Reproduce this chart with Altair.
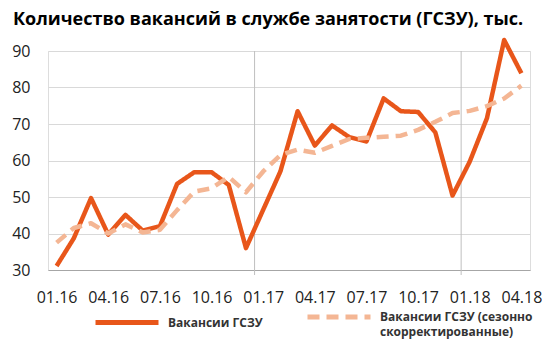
import altair as alt
import pandas as pd

title_text = "Количество вакансий в службе занятости (ГСЗУ), тыс."

months = ["01.16", "02.16", "03.16", "04.16", "05.16", "06.16", "07.16", "08.16",
          "09.16", "10.16", "11.16", "12.16", "01.17", "02.17", "03.17", "04.17",
          "05.17", "06.17", "07.17", "08.17", "09.17", "10.17", "11.17", "12.17",
          "01.18", "02.18", "03.18", "04.18"]

vacancies = [31.1, 38.7, 49.7, 39.7, 45.1, 40.8, 42.0, 53.6, 56.8, 56.8, 53.3, 36.0,
             46.5, 57.0, 73.5, 64.1, 69.6, 66.4, 65.2, 77.0, 73.5, 73.3, 67.7, 50.4,
             59.7, 71.6, 93.0, 83.9]

vacancies_sa = [37.5, 41.5, 42.8, 40.0, 42.5, 40.3, 41.0, 46.4, 51.5, 52.4, 55.5, 51.3,
                57.0, 61.5, 63.0, 62.1, 64.0, 65.9, 66.2, 66.5, 66.8, 68.4, 70.6, 73.0,
                73.6, 74.9, 77.0, 80.5]

series_names = ["Вакансии ГСЗУ", "Вакансии ГСЗУ (сезонно скорректированные)"]
y_ticks = [30, 40, 50, 60, 70, 80, 90]

rows = []
for i, m in enumerate(months):
    rows.append({"idx": i, "month": m, "series": series_names[0], "value": vacancies[i]})
    rows.append({"idx": i, "month": m, "series": series_names[1], "value": vacancies_sa[i]})
df = pd.DataFrame(rows)

bounds = pd.DataFrame({"b": [i - 0.5 for i, m in enumerate(months) if m.startswith("01.") and i > 0]})

label_expr = "[" + ",".join(f"'{m}'" for m in months) + "][datum.value]"
tick_idx = [i for i, m in enumerate(months) if m[:2] in ("01", "04", "07", "10")]

FONT = "Open Sans"

x_enc = alt.X(
    "idx:Q",
    scale=alt.Scale(domain=[-0.5, len(months) - 0.5], nice=False, zero=False),
    axis=alt.Axis(values=tick_idx, labelExpr=label_expr, title=None, grid=False,
                  ticks=False, domainColor="#a6a6a6", domainWidth=1,
                  labelFont=FONT, labelFontSize=16, labelColor="#222222",
                  labelPadding=19, labelOverlap=False, labelFlush=False),
)

legend = alt.Legend(
    orient="none", legendX=45, legendY=232, direction="horizontal", title=None,
    symbolType="stroke", symbolSize=3969, symbolStrokeWidth=5,
    labelFont=FONT, labelFontSize=12, labelFontWeight="bold", labelColor="#333333",
    columnPadding=34, labelOffset=7, labelLimit=300,
    labelExpr="datum.label == '" + series_names[1] + "' ? ['Вакансии ГСЗУ (сезонно', 'скорректированные)'] : datum.label",
)

lines = alt.Chart(df).mark_line(strokeWidth=4.5, strokeJoin="round").encode(
    x=x_enc,
    y=alt.Y("value:Q",
            scale=alt.Scale(domain=[30, 90], nice=False, zero=False),
            axis=alt.Axis(values=y_ticks, title=None, grid=True, gridColor="#d9d9d9",
                          domain=False, ticks=False, labelFont=FONT, labelFontSize=16,
                          labelColor="#222222", labelPadding=18)),
    color=alt.Color("series:N", scale=alt.Scale(domain=series_names, range=["#E8561A", "#F4B694"]),
                    legend=legend),
    strokeDash=alt.StrokeDash("series:N", scale=alt.Scale(domain=series_names, range=[[1, 0], [12, 7]]),
                              legend=legend),
    order=alt.Order("idx:Q"),
)

rules = alt.Chart(bounds).mark_rule(color="#bfbfbf", strokeWidth=1).encode(
    x=alt.X("b:Q"),
    y=alt.value(0),
    y2=alt.value(224),
)

chart = alt.layer(rules, lines).properties(
    width=482,
    height=219,
    autosize=alt.AutoSizeParams(type="none"),
    padding={"left": 40, "top": 43, "right": 12, "bottom": 78},
    title=alt.TitleParams(text=title_text, anchor="start", frame="group", font=FONT,
                          fontSize=18, fontWeight="bold", color="#000000", dx=-35, offset=9),
).configure_view(stroke=None).configure(style={"guide-label": {"lineHeight": 15}})

chart.save("out.html", embed_options={"renderer": "svg", "actions": False})
